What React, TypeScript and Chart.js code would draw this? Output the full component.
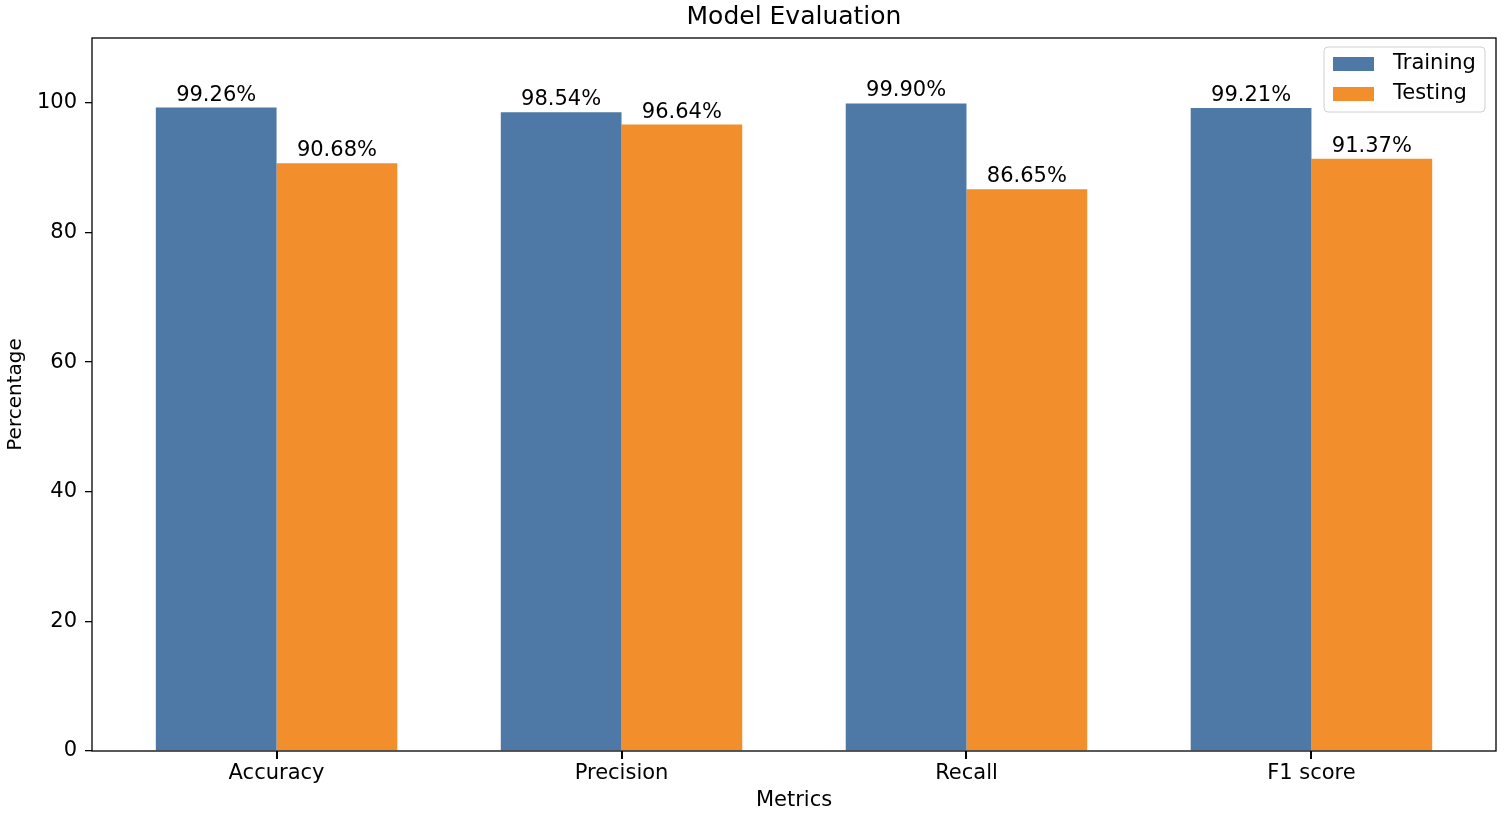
import React, { useEffect, useRef } from "react";
import { Chart, registerables } from "chart.js";

Chart.register(...registerables);

const categories = ["Accuracy", "Precision", "Recall", "F1 score"];
const trainingValues = [99.26, 98.54, 99.9, 99.21];
const testingValues = [90.68, 96.64, 86.65, 91.37];
const yTicks = [0, 20, 40, 60, 80, 100];
const seriesNames = ["Training", "Testing"];
const seriesColors = ["#4e79a7", "#f28e2b"];

const FONT = "'DejaVu Sans', 'Liberation Sans', sans-serif";
const FS = 21;

const framePlugin = {
  id: "frame",
  afterDraw(chart: any) {
    const { ctx, chartArea } = chart;
    ctx.save();
    ctx.strokeStyle = "#000";
    ctx.lineWidth = 1.3;
    ctx.strokeRect(chartArea.left, chartArea.top, chartArea.right - chartArea.left, chartArea.bottom - chartArea.top);
    const xs = chart.scales.x;
    ctx.fillStyle = "#000";
    categories.forEach((_, i) => {
      const px = xs.getPixelForValue(i);
      ctx.fillRect(Math.round(px) - 1, chartArea.bottom, 2, 8);
    });
    ctx.restore();
  },
};

const valueLabelPlugin = {
  id: "valueLabels",
  afterDatasetsDraw(chart: any) {
    const { ctx } = chart;
    ctx.save();
    ctx.font = `${FS}px ${FONT}`;
    ctx.fillStyle = "#000";
    ctx.textAlign = "center";
    ctx.textBaseline = "alphabetic";
    chart.data.datasets.forEach((ds: any, di: number) => {
      const meta = chart.getDatasetMeta(di);
      meta.data.forEach((bar: any, i: number) => {
        const v = ds.data[i].y;
        ctx.fillText(v.toFixed(2) + "%", bar.x, bar.y - 7);
      });
    });
    ctx.restore();
  },
};

const legendPlugin = {
  id: "customLegend",
  afterDraw(chart: any) {
    const { ctx, chartArea } = chart;
    const w = 161;
    const h = 65;
    const x = chartArea.right - 11 - w;
    const y = chartArea.top + 9;
    ctx.save();
    ctx.beginPath();
    const r = 4;
    ctx.moveTo(x + r, y);
    ctx.lineTo(x + w - r, y);
    ctx.quadraticCurveTo(x + w, y, x + w, y + r);
    ctx.lineTo(x + w, y + h - r);
    ctx.quadraticCurveTo(x + w, y + h, x + w - r, y + h);
    ctx.lineTo(x + r, y + h);
    ctx.quadraticCurveTo(x, y + h, x, y + h - r);
    ctx.lineTo(x, y + r);
    ctx.quadraticCurveTo(x, y, x + r, y);
    ctx.closePath();
    ctx.fillStyle = "rgba(255,255,255,0.8)";
    ctx.fill();
    ctx.strokeStyle = "#d0d0d0";
    ctx.lineWidth = 1;
    ctx.stroke();
    ctx.font = `${FS}px ${FONT}`;
    ctx.textBaseline = "middle";
    ctx.textAlign = "left";
    seriesNames.forEach((name, i) => {
      const cy = y + 17 + i * 30;
      ctx.fillStyle = seriesColors[i];
      ctx.fillRect(x + 9, cy - 7, 41, 14);
      ctx.fillStyle = "#000";
      ctx.fillText(name, x + 69, cy);
    });
    ctx.restore();
  },
};

export default function App() {
  const canvasRef = useRef<HTMLCanvasElement | null>(null);

  useEffect(() => {
    document.body.style.margin = "0";
    const canvas = canvasRef.current;
    if (!canvas) return;
    Chart.defaults.font.family = FONT;
    Chart.defaults.color = "#000";
    const chart = new Chart(canvas, {
      type: "bar",
      data: {
        datasets: [
          {
            label: seriesNames[0],
            data: trainingValues.map((v, i) => ({ x: i, y: v })),
            backgroundColor: seriesColors[0],
            borderWidth: 0,
            categoryPercentage: 0.7,
            barPercentage: 1.0,
          },
          {
            label: seriesNames[1],
            data: testingValues.map((v, i) => ({ x: i, y: v })),
            backgroundColor: seriesColors[1],
            borderWidth: 0,
            categoryPercentage: 0.7,
            barPercentage: 1.0,
          },
        ],
      },
      options: {
        animation: false,
        responsive: true,
        maintainAspectRatio: false,
        layout: { padding: { left: 0, right: 9, top: 0, bottom: 0 } },
        plugins: {
          legend: { display: false },
          tooltip: { enabled: false },
          title: {
            display: true,
            fullSize: false,
            text: "Model Evaluation",
            color: "#000",
            font: { size: 25, weight: "normal", family: FONT },
            padding: { top: 2, bottom: 6 },
          },
        },
        scales: {
          x: {
            type: "linear",
            min: -0.535,
            max: 3.535,
            offset: false,
            afterBuildTicks(axis: any) {
              axis.ticks = categories.map((_, i) => ({ value: i }));
            },
            afterFit(axis: any) {
              axis.height = 70;
            },
            ticks: {
              autoSkip: false,
              maxRotation: 0,
              padding: 3,
              font: { size: FS, family: FONT },
              color: "#000",
              callback: (v: any) => categories[v as number] ?? "",
            },
            grid: {
              display: true,
              offset: false,
              drawOnChartArea: false,
              drawTicks: true,
              tickLength: 7,
              color: "rgba(0,0,0,0)",
              lineWidth: 1.3,
            },
            border: { display: false },
            title: {
              display: true,
              text: "Metrics",
              color: "#000",
              font: { size: FS, family: FONT },
              padding: { top: 0, bottom: 8 },
            },
          },
          y: {
            type: "linear",
            min: 0,
            max: 110,
            afterBuildTicks(axis: any) {
              axis.ticks = yTicks.map((v) => ({ value: v }));
            },
            afterFit(axis: any) {
              axis.width = 92;
            },
            ticks: {
              padding: 8,
              font: { size: FS, family: FONT },
              color: "#000",
            },
            grid: {
              display: true,
              offset: false,
              drawOnChartArea: false,
              drawTicks: true,
              tickLength: 7,
              color: "#000",
              lineWidth: 1.3,
            },
            border: { display: false },
            title: {
              display: true,
              text: "Percentage",
              color: "#000",
              font: { size: 20, family: FONT },
              padding: { top: 4, bottom: 0 },
            },
          },
        },
      } as any,
      plugins: [framePlugin, valueLabelPlugin, legendPlugin],
    });
    return () => chart.destroy();
  }, []);

  return (
    <div style={{ position: "relative", width: "1505px", height: "821px" }}>
      <canvas ref={canvasRef} />
    </div>
  );
}
